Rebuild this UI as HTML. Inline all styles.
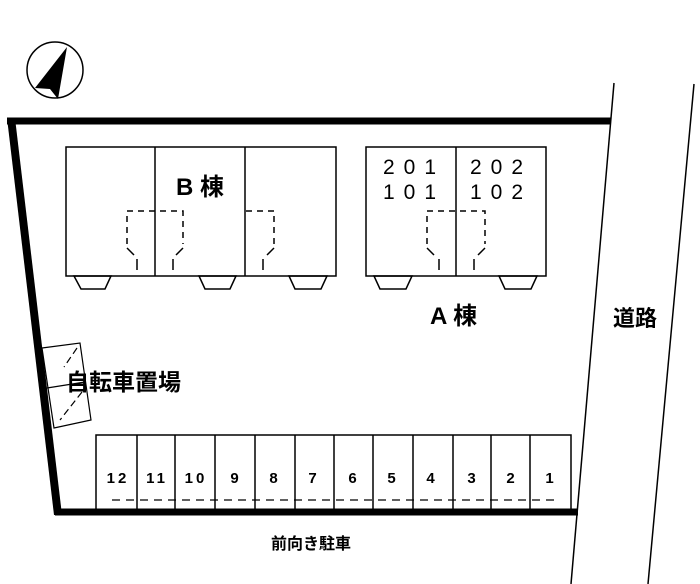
<!DOCTYPE html>
<html><head><meta charset="utf-8"><style>
html,body{margin:0;padding:0;background:#fff;}
svg{display:block;}
text{font-family:"Liberation Sans","Noto Sans CJK JP",sans-serif;fill:#000;}
</style></head><body>
<svg width="700" height="584" viewBox="0 0 700 584" xmlns="http://www.w3.org/2000/svg">
<!-- compass -->
<circle cx="55" cy="70" r="28" fill="none" stroke="#000" stroke-width="1.5"/>
<polygon points="67,47 35,88 50,89 58,99" fill="#000"/>
<!-- walls -->
<line x1="7" y1="121" x2="611" y2="121" stroke="#000" stroke-width="7"/>
<polygon points="7,118 15,118 62,515 54,515" fill="#000"/>
<line x1="55" y1="512" x2="578" y2="512" stroke="#000" stroke-width="7"/>
<!-- road lines -->
<line x1="614" y1="83" x2="571" y2="584" stroke="#000" stroke-width="1.5"/>
<line x1="694" y1="84" x2="648" y2="584" stroke="#000" stroke-width="1.5"/>
<text x="613" y="326" font-size="22" font-weight="bold">道路</text>
<!-- B building -->
<g fill="none" stroke="#000" stroke-width="1.5">
<rect x="66" y="147" width="270" height="129"/>
<line x1="155" y1="147" x2="155" y2="276"/>
<line x1="245" y1="147" x2="245" y2="276"/>
<polygon points="74,276 111,276 105,289 81,289"/>
<polygon points="199,276 236,276 230,289 205,289"/>
<polygon points="289,276 327,276 321,289 295,289"/>
<g stroke-dasharray="6,5">
<polyline points="127,244 127,211 183,211 183,244"/>
<polyline points="246,211 274,211 274,244"/>
</g>
<line x1="127" y1="248" x2="134" y2="255"/><line x1="137" y1="259" x2="137" y2="270"/>
<line x1="183" y1="248" x2="176" y2="255"/><line x1="173" y1="259" x2="173" y2="270"/>
<line x1="274" y1="248" x2="267" y2="255"/><line x1="263" y1="259" x2="263" y2="270"/>
</g>
<text x="176" y="195" font-size="24" font-weight="bold">B 棟</text>
<!-- A building -->
<g fill="none" stroke="#000" stroke-width="1.5">
<rect x="366" y="147" width="180" height="129"/>
<line x1="456" y1="147" x2="456" y2="276"/>
<polygon points="374,276 412,276 406,289 380,289"/>
<polygon points="499,276 537,276 531,289 505,289"/>
<polyline points="427,244 427,211 485,211 485,244" stroke-dasharray="6,5"/>
<line x1="427" y1="248" x2="434" y2="255"/><line x1="439" y1="259" x2="439" y2="270"/>
<line x1="485" y1="248" x2="478" y2="255"/><line x1="474" y1="259" x2="474" y2="270"/>
</g>
<g font-size="21" letter-spacing="9">
<text x="383" y="174">201</text><text x="383" y="199">101</text>
<text x="470" y="174">202</text><text x="470" y="199">102</text>
</g>
<text x="430" y="324" font-size="24" font-weight="bold">A 棟</text>
<!-- bicycle -->
<g fill="none" stroke="#000" stroke-width="1.2">
<polygon points="42,348 80,343 91,420 54,428"/>
<line x1="47" y1="388" x2="85" y2="382"/>
<line x1="77" y1="348" x2="64" y2="367" stroke-dasharray="7,4"/>
<line x1="82" y1="392" x2="60" y2="420" stroke-dasharray="7,4"/>
</g>
<text x="66" y="390" font-size="23" font-weight="bold">自転車置場</text>
<!-- parking -->
<g fill="none" stroke="#000" stroke-width="1.5">
<polyline points="96,509 96,435 571,435 571,509"/>
<line x1="137" y1="435" x2="137" y2="509"/><line x1="175" y1="435" x2="175" y2="509"/>
<line x1="215" y1="435" x2="215" y2="509"/><line x1="255" y1="435" x2="255" y2="509"/>
<line x1="295" y1="435" x2="295" y2="509"/><line x1="334" y1="435" x2="334" y2="509"/>
<line x1="373" y1="435" x2="373" y2="509"/><line x1="413" y1="435" x2="413" y2="509"/>
<line x1="453" y1="435" x2="453" y2="509"/><line x1="491" y1="435" x2="491" y2="509"/>
<line x1="530" y1="435" x2="530" y2="509"/>
<line x1="112" y1="500" x2="560" y2="500" stroke-width="1.2" stroke-dasharray="8,6"/>
</g>
<g font-size="15" font-weight="bold" text-anchor="middle" letter-spacing="3">
<text x="118" y="483">12</text><text x="157" y="483">11</text><text x="196" y="483">10</text>
<text x="236" y="483">9</text><text x="275" y="483">8</text><text x="314" y="483">7</text>
<text x="354" y="483">6</text><text x="393" y="483">5</text><text x="432" y="483">4</text>
<text x="473" y="483">3</text><text x="512" y="483">2</text><text x="551" y="483">1</text>
</g>
<text x="271" y="549" font-size="16" font-weight="bold">前向き駐車</text>
</svg>
</body></html>
